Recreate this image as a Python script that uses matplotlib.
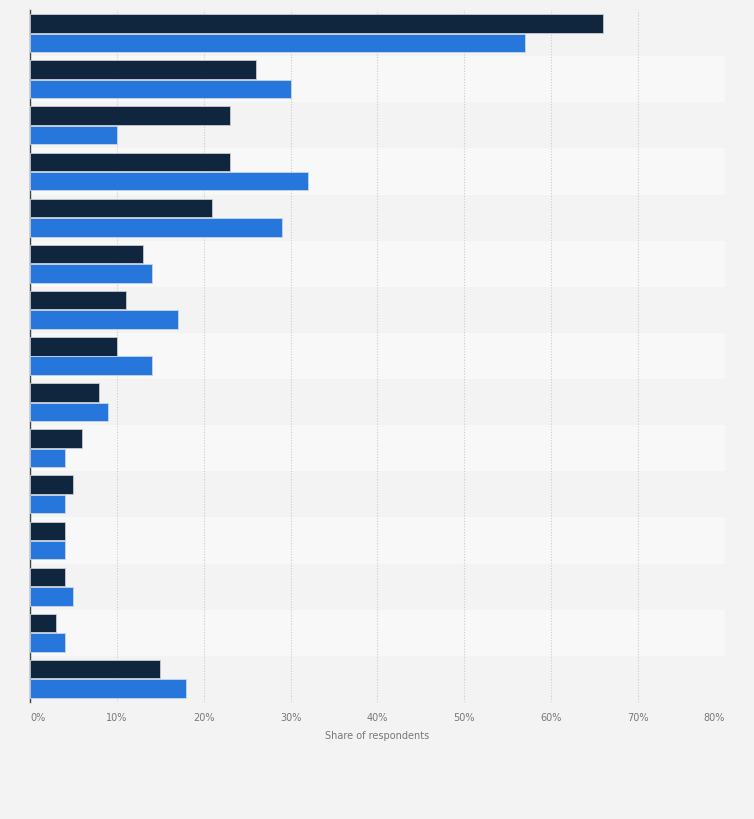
import numpy as np
import matplotlib.pyplot as plt

# category labels are not shown in the chart
categories = [f"Item {i + 1}" for i in range(15)]
series_dark = [66, 26, 23, 23, 21, 13, 11, 10, 8, 6, 5, 4, 4, 3, 15]
series_blue = [57, 30, 10, 32, 29, 14, 17, 14, 9, 4, 4, 4, 5, 4, 18]
tick_values = [0, 10, 20, 30, 40, 50, 60, 70, 80]
tick_labels = [f"{v}%" for v in tick_values]

bg = '#f3f3f3'
fig = plt.figure(figsize=(7.54, 8.19), dpi=100, facecolor=bg)
ax = fig.add_axes([30 / 754, 1 - 702 / 819, 695 / 754, 692 / 819])
ax.set_facecolor(bg)

y = np.arange(len(categories))
for i in y:
    if i % 2 == 1:
        ax.axhspan(i - 0.5, i + 0.5, color='#f8f8f8', zorder=0, lw=0)

ax.barh(y - 0.21, series_dark, height=0.4, color='#10263e',
        edgecolor='#c8ccd2', linewidth=0.6, zorder=3)
ax.barh(y + 0.21, series_blue, height=0.4, color='#2776dc',
        edgecolor='#c8d6ea', linewidth=0.6, zorder=3)

ax.set_ylim(len(categories) - 0.5, -0.5)
ax.set_xlim(0, 80)
ax.set_yticks(y)
ax.set_yticklabels([])
ax.tick_params(axis='y', length=0)
ax.set_xticks(tick_values)
ax.set_xticklabels(tick_labels, fontsize=7, color='#777777')
ax.tick_params(axis='x', length=0, pad=8)
labels = ax.get_xticklabels()
labels[0].set_horizontalalignment('left')
labels[-1].set_horizontalalignment('right')

ax.grid(axis='x', color='#cccccc', linestyle=(0, (1, 1.5)), linewidth=0.8, zorder=1)
for s in ['top', 'right', 'bottom']:
    ax.spines[s].set_visible(False)
ax.spines['left'].set_color('#444444')
ax.spines['left'].set_linewidth(1)

ax.set_xlabel('Share of respondents', fontsize=7, color='#777777', labelpad=6)

fig.savefig('out.png', dpi=100, facecolor=bg)
